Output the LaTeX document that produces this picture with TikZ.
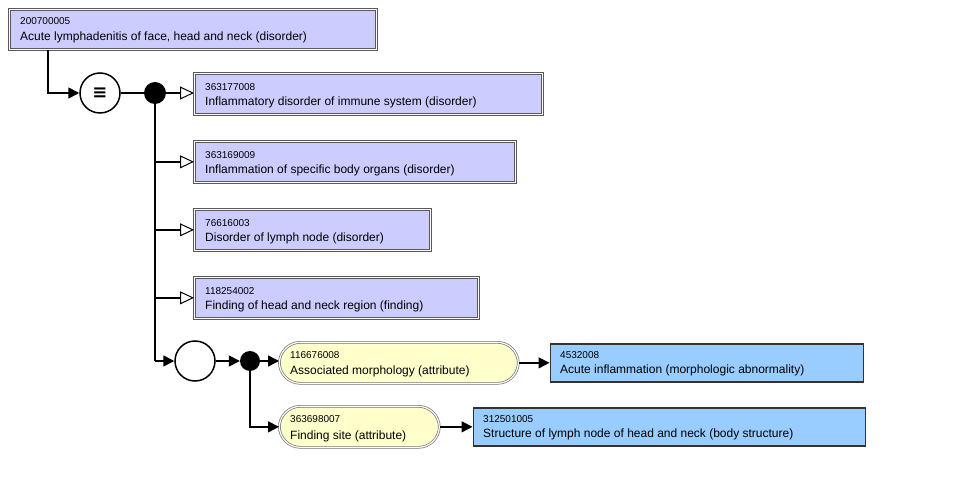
\documentclass[tikz,border=0pt]{standalone}
\usepackage{fontspec}
\setmainfont{Liberation Sans}
\newfontfamily\symfnt{DejaVu Sans}
\usetikzlibrary{arrows.meta}
\definecolor{defc}{HTML}{CCCCFF}
\definecolor{primc}{HTML}{99CCFF}
\definecolor{attrc}{HTML}{FFFFCC}
% #1 box name, #2 id, #3 label, #4 x offset, #5 id baseline offset, #6 label baseline offset
\newcommand\lbl[6]{%
  \node[idt] (#1-id) at ([shift={(#4,#5)}]#1.north west) {#2};
  \node[nmt] (#1-nm) at ([shift={(#4,#6)}]#1.north west) {#3};}
\begin{document}
\begin{tikzpicture}[x=1pt,y=-1pt,
  box/.style={anchor=north west, inner sep=0pt},
  idt/.style={anchor=base west, inner sep=0pt, font=\fontsize{10}{12}\selectfont},
  nmt/.style={anchor=base west, inner sep=0pt, font=\fontsize{12}{14}\selectfont},
  defbox/.style={box, fill=defc, draw=black!65, double=white, double distance=1.2pt, line width=0.7pt},
  primbox/.style={box, fill=primc, draw=black!80, line width=1.5pt},
  attrbox/.style={box, fill=attrc, draw=black!55, double=white, double distance=1.2pt, line width=0.7pt, rounded corners=21pt},
  ring/.style={circle, draw=black, line width=1.5pt, fill=white, minimum size=40pt, inner sep=0pt},
  dot/.style={circle, fill=black, inner sep=0pt},
  conn/.style={line width=1.6pt},
  arr/.style={conn, -{Triangle[length=11pt,width=11pt]}},
  isa/.style={conn, -{Triangle[open,fill=white,length=14pt,width=13pt,line width=1pt]}},
]
\useasboundingbox (0,0) rectangle (956,502);
\node[defbox, minimum width=367pt, minimum height=40pt] (a) at (9,9) {};
\lbl{a}{200700005}{Acute lymphadenitis of face, head and neck (disorder)}{11}{16}{32}
\node[ring, font=\symfnt\bfseries\fontsize{18}{18}\selectfont] (eq) at (100,93) {≡};
\node[dot, minimum size=22pt] (d1) at (155,93) {};
\node[defbox, minimum width=348pt, minimum height=41pt] (c1) at (194,73) {};
\lbl{c1}{363177008}{Inflammatory disorder of immune system (disorder)}{11}{18}{33}
\node[defbox, minimum width=321pt, minimum height=41pt] (c2) at (194,141) {};
\lbl{c2}{363169009}{Inflammation of specific body organs (disorder)}{11}{18}{33}
\node[defbox, minimum width=236pt, minimum height=41pt] (c3) at (194,209) {};
\lbl{c3}{76616003}{Disorder of lymph node (disorder)}{11}{18}{33}
\node[defbox, minimum width=284pt, minimum height=41pt] (c4) at (194,277) {};
\lbl{c4}{118254002}{Finding of head and neck region (finding)}{11}{18}{33}
\node[ring] (e) at (195,361) {};
\node[dot, minimum size=20pt] (d2) at (250,361) {};
\node[attrbox, minimum width=239pt, minimum height=41pt] (r1) at (279,342) {};
\lbl{r1}{116676008}{Associated morphology (attribute)}{11}{17}{33}
\node[primbox, minimum width=313pt, minimum height=38pt] (v1) at (549.5,343.5) {};
\lbl{v1}{4532008}{Acute inflammation (morphologic abnormality)}{10.5}{15.5}{30.5}
\node[attrbox, minimum width=160pt, minimum height=41pt] (r2) at (279,406) {};
\lbl{r2}{363698007}{Finding site (attribute)}{11}{17}{33}
\node[primbox, minimum width=392pt, minimum height=38pt] (v2) at (472.5,407.5) {};
\lbl{v2}{312501005}{Structure of lymph node of head and neck (body structure)}{10.5}{15.5}{30.5}
\draw[arr] ([xshift=39pt]a.south west) |- (eq.west);
\draw[conn] (eq.east) -- (d1.west);
\draw[isa] (d1.east) -- (d1.east -| c1.west);
\draw[conn] (d1.south) -- (d1 |- e.west);
\draw[isa] (d1 |- c2.west) -- (c2.west);
\draw[isa] (d1 |- c3.west) -- (c3.west);
\draw[isa] (d1 |- c4.west) -- (c4.west);
\draw[arr] (d1 |- e.west) -- (e.west);
\draw[arr] (e.east) -- (d2.west);
\draw[arr] (d2.east) -- (d2.east -| r1.west);
\draw[arr] (d2.south) |- (r2.west);
\draw[arr] (r1.east) -- (r1.east -| v1.west);
\draw[arr] (r2.east) -- (r2.east -| v2.west);
\end{tikzpicture}
\end{document}
